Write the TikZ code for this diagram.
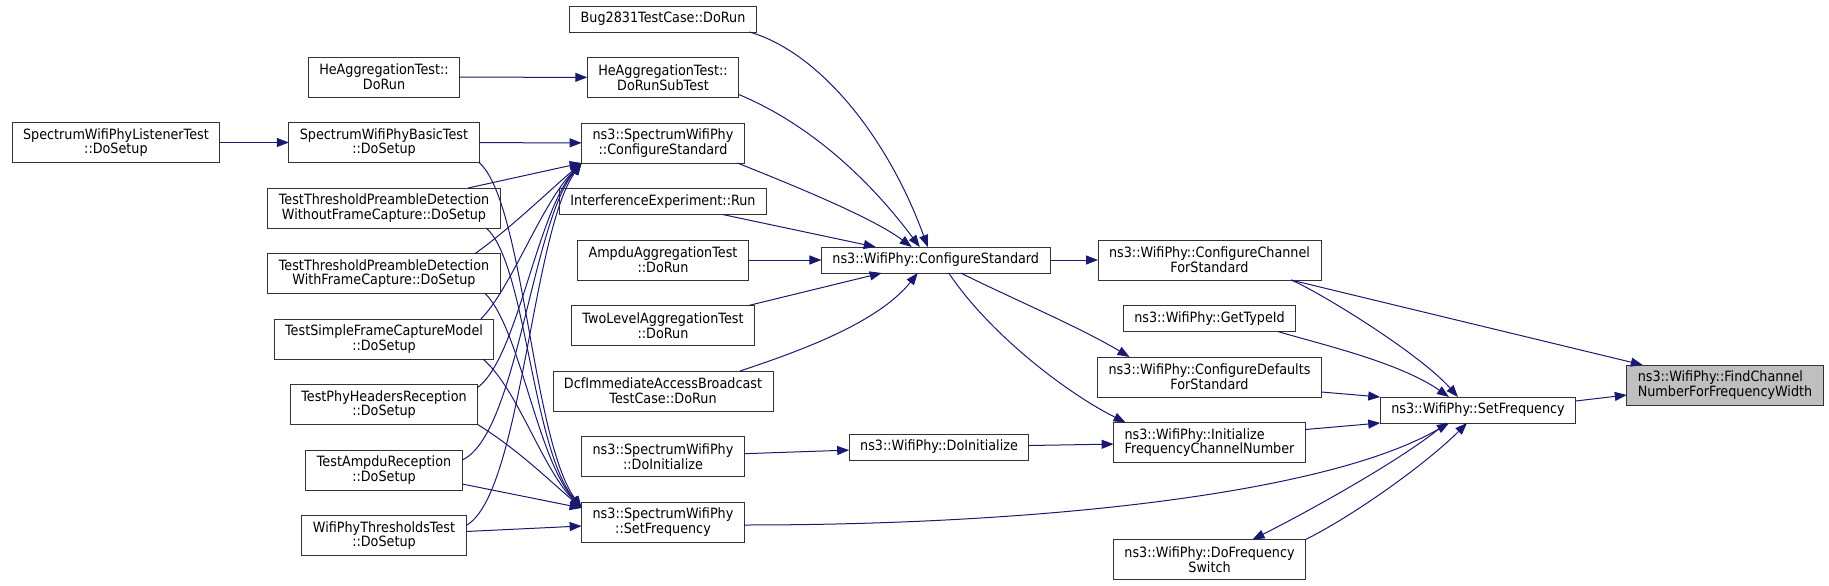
\documentclass[tikz,border=0pt]{standalone}
\usepackage{fontspec}
\setmainfont{DejaVu Sans}[FakeStretch=0.9]
\usepackage{xcolor}
\usetikzlibrary{arrows.meta, positioning}
\definecolor{edgeblue}{RGB}{25,25,112}
\tikzstyle{fn} = [rectangle, 
draw=black!80, 
line width=0.9pt, 
fill=white, 
inner xsep=11pt, 
inner ysep=1pt, 
outer sep=0pt, 
minimum height=26pt, 
align=center, 
font=\fontsize{14.2}{14.6}\selectfont]
\tikzstyle{tall} = [minimum height=40pt]
\tikzstyle{current} = [fn, fill=black!25]
\tikzstyle{call} = [line width=1pt, draw=edgeblue, -{Triangle[length=12pt, width=9pt]}]

\begin{document}
\begin{tikzpicture}[x=1pt, y=-1pt, node distance=25.5pt]
        \useasboundingbox (0,0) rectangle (1829,586);

        % Nodes
        \node (heRun) [fn, tall] at (384,77) {HeAggregationTest::\\DoRun};
        \node (basic) [fn, tall, below=of heRun] {SpectrumWifiPhyBasicTest\\::DoSetup};
        \node (withoutFc) [fn, tall, below=of basic] {TestThresholdPreambleDetection\\WithoutFrameCapture::DoSetup};
        \node (withFc) [fn, tall, below=of withoutFc] {TestThresholdPreambleDetection\\WithFrameCapture::DoSetup};
        \node (simpleFc) [fn, tall, below=of withFc] {TestSimpleFrameCaptureModel\\::DoSetup};
        \node (phyHdr) [fn, tall, below=of simpleFc] {TestPhyHeadersReception\\::DoSetup};
        \node (ampduRx) [fn, tall, below=of phyHdr] {TestAmpduReception\\::DoSetup};
        \node (thresh) [fn, tall, below=of ampduRx] {WifiPhyThresholdsTest\\::DoSetup};
        \node (listener) [fn, tall, left=69pt of basic] {SpectrumWifiPhyListenerTest\\::DoSetup};

        \node (bug) [fn] at (663,19) {Bug2831TestCase::DoRun};
        \node (heSub) [fn, tall, below=of bug] {HeAggregationTest::\\DoRunSubTest};
        \node (spCfg) [fn, tall, below=of heSub] {ns3::SpectrumWifiPhy\\::ConfigureStandard};
        \node (interf) [fn, below=of spCfg] {InterferenceExperiment::Run};
        \node (ampduAgg) [fn, tall, below=of interf] {AmpduAggregationTest\\::DoRun};
        \node (twoLvl) [fn, tall, below=of ampduAgg] {TwoLevelAggregationTest\\::DoRun};
        \node (dcf) [fn, tall, below=of twoLvl] {DcfImmediateAccessBroadcast\\TestCase::DoRun};
        \node (spInit) [fn, tall, below=of dcf] {ns3::SpectrumWifiPhy\\::DoInitialize};
        \node (spFreq) [fn, tall, below=of spInit] {ns3::SpectrumWifiPhy\\::SetFrequency};

        \node (cfgStd) [fn, right=73pt of ampduAgg] {ns3::WifiPhy::ConfigureStandard};
        \node (doInit) [fn] at (939,447) {ns3::WifiPhy::DoInitialize};

        \node (cfgChan) [fn, tall, right=48pt of cfgStd] {ns3::WifiPhy::ConfigureChannel\\ForStandard};
        \node (typeId) [fn, below=of cfgChan] {ns3::WifiPhy::GetTypeId};
        \node (cfgDef) [fn, tall, below=of typeId] {ns3::WifiPhy::ConfigureDefaults\\ForStandard};
        \node (initFreq) [fn, tall, align=left, below=of cfgDef] {ns3::WifiPhy::Initialize\\FrequencyChannelNumber};
        \node (freqSw) [fn, tall, below=77pt of initFreq] {ns3::WifiPhy::DoFrequency\\Switch};

        \node (setFreq) [fn] at (1478,410) {ns3::WifiPhy::SetFrequency};
        \node (findCh) [current, tall, align=left] at (1725,385) {ns3::WifiPhy::FindChannel\\NumberForFrequencyWidth};

        % Edges into the SpectrumWifiPhy nodes
        \draw [call] (listener) -- (basic);
        \draw [call] (heRun) -- (heSub);
        \draw [call] (basic) -- (spCfg);
        \draw [call] ([shift={(-32,0)}]withoutFc.north east) -- (spCfg.south west);
        \draw [call] ([shift={(-25,0)}]withFc.north east) .. controls +(35,-25) and +(-35,30) .. (spCfg.south west);
        \draw [call] ([shift={(-13,0)}]simpleFc.north east) .. controls +(30,-30) and +(-40,40) .. (spCfg.south west);
        \draw [call] ([shift={(0,3)}]phyHdr.north east) .. controls +(40,-30) and +(-45,50) .. (spCfg.south west);
        \draw [call] ([shift={(0,-10)}]ampduRx.east) .. controls +(55,-25) and +(-50,60) .. (spCfg.south west);
        \draw [call] ([shift={(0,-10)}]thresh.east) .. controls +(55,-30) and +(-50,70) .. (spCfg.south west);

        \draw [call] (basic.south east) .. controls +(45,40) and +(-50,-70) .. ([shift={(0,6)}]spFreq.north west);
        \draw [call] ([shift={(-14,0)}]withoutFc.south east) .. controls +(40,35) and +(-50,-60) .. ([shift={(0,6)}]spFreq.north west);
        \draw [call] ([shift={(-15,0)}]withFc.south east) .. controls +(35,35) and +(-45,-50) .. ([shift={(0,6)}]spFreq.north west);
        \draw [call] ([shift={(-11,0)}]simpleFc.south east) .. controls +(35,30) and +(-40,-40) .. ([shift={(0,6)}]spFreq.north west);
        \draw [call] (phyHdr.south east) .. controls +(40,25) and +(-35,-30) .. ([shift={(0,6)}]spFreq.north west);
        \draw [call] ([shift={(0,14)}]ampduRx.east) -- ([shift={(0,6)}]spFreq.north west);
        \draw [call] ([shift={(0,-4)}]thresh.east) -- ([shift={(0,4)}]spFreq.west);

        % Edges into ConfigureStandard
        \draw [call] ([shift={(-7,0)}]bug.south east) .. controls +(70,20) and +(-40,-110) .. ([shift={(-8,0)}]cfgStd.north);
        \draw [call] ([shift={(0,-3)}]heSub.south east) .. controls +(60,25) and +(-60,-80) .. ([shift={(-16,0)}]cfgStd.north);
        \draw [call] ([shift={(-7,0)}]spCfg.south east) .. controls +(50,20) and +(-40,-30) .. ([shift={(-24,0)}]cfgStd.north);
        \draw [call] ([shift={(-44,0)}]interf.south east) -- ([shift={(-60,0)}]cfgStd.north);
        \draw [call] (ampduAgg) -- (cfgStd);
        \draw [call] ([shift={(-6,0)}]twoLvl.north east) -- ([shift={(-54,0)}]cfgStd.south);
        \draw [call] ([shift={(-33,0)}]dcf.north east) .. controls +(60,-20) and +(-40,50) .. ([shift={(-18,0)}]cfgStd.south);

        % Edges out of ConfigureStandard
        \draw [call] (cfgStd) -- (cfgChan);
        \draw [call] ([shift={(25,0)}]cfgStd.south) .. controls +(50,25) and +(-50,-30) .. ([shift={(-80,0)}]cfgDef.north);
        \draw [call] ([shift={(13,0)}]cfgStd.south) .. controls +(40,60) and +(-60,-30) .. ([shift={(12,0)}]initFreq.north west);
        \draw [call] (spInit) -- (doInit);
        \draw [call] (doInit) -- (initFreq);

        % Edges into SetFrequency
        \draw [call] ([shift={(-30,0)}]cfgChan.south east) .. controls +(25,10) and +(-40,-45) .. ([shift={(-20,0)}]setFreq.north);
        \draw [call] ([shift={(-30,0)}]cfgChan.south east) -- ([shift={(16,0)}]findCh.north west);
        \draw [call] ([shift={(-18,0)}]typeId.south east) .. controls +(40,12) and +(-50,-35) .. ([shift={(-29,0)}]setFreq.north);
        \draw [call] ([shift={(0,15)}]cfgDef.east) -- (setFreq.north west);
        \draw [call] ([shift={(0,-13)}]initFreq.east) -- (setFreq.south west);
        \draw [call] ([shift={(0,3)}]spFreq.east) .. controls +(300,0) and +(-120,70) .. ([shift={(-29,0)}]setFreq.south);
        \draw [call] ([shift={(-32,0)}]setFreq.south) .. controls +(-40,35) and +(50,-25) .. ([shift={(43,0)}]freqSw.north);
        \draw [call] (freqSw.north east) .. controls +(50,-25) and +(-40,40) .. ([shift={(-11,0)}]setFreq.south);
        \draw [call] ([shift={(0,-9)}]setFreq.east) -- ([shift={(0,10)}]findCh.west);

\end{tikzpicture}
\end{document}
